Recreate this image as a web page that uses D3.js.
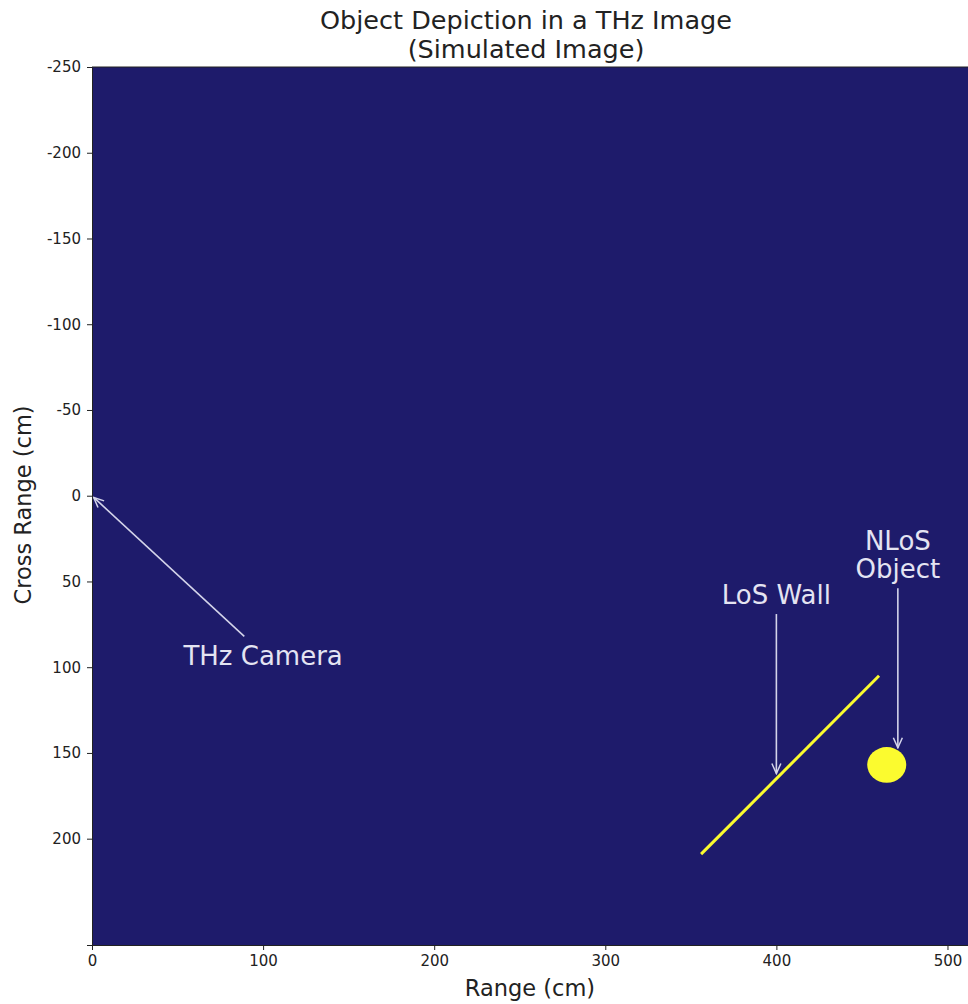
<!DOCTYPE html>
<html>
<head>
<meta charset="utf-8">
<script src="https://cdn.jsdelivr.net/npm/d3@7"></script>
<style>
  html, body { margin: 0; padding: 0; background: #fff; }
  svg { display: block; font-family: "DejaVu Sans", sans-serif; }
</style>
</head>
<body>
<svg id="chart" width="968" height="1004"></svg>
<script>
// Scene extent (cm)
const rangeExtent = [0, 512];
const crossExtent = [-250, 262];

// Axis ticks
const rangeTicks = [0, 100, 200, 300, 400, 500];
const crossTicks = [-250, -200, -150, -100, -50, 0, 50, 100, 150, 200];

// Line-of-sight wall: end points [range, cross range]
const wallPoints = [[356, 209], [460, 105]];

// Hidden object: centre and radii [range, cross range]
const objectCenter = [464.5, 157];
const objectRadius = [11.4, 10.4];

// Annotations: label lines, label anchor, arrow start and arrow tip
const annotations = [
  { lines: ["THz Camera"], label: [100, 98.5], from: [89, 82], to: [1, 1] },
  { lines: ["LoS Wall"], label: [400, 63], from: [400, 69], to: [400, 162] },
  { lines: ["NLoS", "Object"], label: [471, 48], from: [471, 54], to: [471, 147] }
];

const svg = d3.select("#chart");
const margin = { left: 92, top: 67, right: 0, bottom: 59 };
const W = 968, H = 1004;

const x = d3.scaleLinear().domain(rangeExtent).range([margin.left, W - margin.right]);
const y = d3.scaleLinear().domain(crossExtent).range([margin.top, H - margin.bottom]);

const bg = "#1e1b6b";
const yellow = "#fbfb2f";
const annoColor = "#d4d4ea";

// Image background
svg.append("rect")
  .attr("x", x(rangeExtent[0])).attr("y", y(crossExtent[0]))
  .attr("width", x(rangeExtent[1]) - x(rangeExtent[0]))
  .attr("height", y(crossExtent[1]) - y(crossExtent[0]))
  .attr("fill", bg);

// Wall
svg.append("line")
  .attr("x1", x(wallPoints[0][0])).attr("y1", y(wallPoints[0][1]))
  .attr("x2", x(wallPoints[1][0])).attr("y2", y(wallPoints[1][1]))
  .attr("stroke", yellow).attr("stroke-width", 3);

// Object
svg.append("ellipse")
  .attr("cx", x(objectCenter[0])).attr("cy", y(objectCenter[1]))
  .attr("rx", x(objectCenter[0] + objectRadius[0]) - x(objectCenter[0]))
  .attr("ry", y(objectCenter[1] + objectRadius[1]) - y(objectCenter[1]))
  .attr("fill", yellow);

// Arrow head marker (open "->" style)
svg.append("defs").append("marker")
  .attr("id", "head").attr("viewBox", "0 0 12 12")
  .attr("refX", 11).attr("refY", 6)
  .attr("markerWidth", 12).attr("markerHeight", 12)
  .attr("markerUnits", "userSpaceOnUse")
  .attr("orient", "auto")
  .append("path").attr("d", "M1,1.5 L11,6 L1,10.5")
  .attr("fill", "none").attr("stroke", annoColor).attr("stroke-width", 1.5);

const ann = svg.append("g");
annotations.forEach(a => {
  ann.append("line")
    .attr("x1", x(a.from[0])).attr("y1", y(a.from[1]))
    .attr("x2", x(a.to[0])).attr("y2", y(a.to[1]))
    .attr("stroke", annoColor).attr("stroke-width", 1.6)
    .attr("marker-end", "url(#head)");
  const n = a.lines.length;
  a.lines.forEach((t, i) => {
    ann.append("text")
      .attr("x", x(a.label[0]))
      .attr("y", y(a.label[1]) - (n - 1 - i) * 28)
      .attr("text-anchor", "middle")
      .attr("font-size", 26)
      .attr("fill", "#e4e4f2")
      .text(t);
  });
});

// Axes
const xAxis = svg.append("g")
  .attr("transform", `translate(0,${y(crossExtent[1])})`)
  .call(d3.axisBottom(x).tickValues(rangeTicks).tickSize(5).tickPadding(5));
const yAxis = svg.append("g")
  .attr("transform", `translate(${x(rangeExtent[0])},0)`)
  .call(d3.axisLeft(y).tickValues(crossTicks).tickSize(5).tickPadding(6)
    .tickFormat(d => d < 0 ? "-" + Math.abs(d) : d));
[xAxis, yAxis].forEach(g => {
  g.selectAll("text").attr("font-size", 15).attr("fill", "#222")
    .attr("font-family", "DejaVu Sans, sans-serif");
  g.selectAll("line").attr("stroke", "#222");
  g.select(".domain").attr("stroke", "#222");
});

// Top edge of the frame
svg.append("line")
  .attr("x1", x(rangeExtent[0])).attr("x2", x(rangeExtent[1]))
  .attr("y1", y(crossExtent[0])).attr("y2", y(crossExtent[0]))
  .attr("stroke", "#222");

// Titles
const title = svg.append("text").attr("text-anchor", "middle")
  .attr("font-size", 25.5).attr("fill", "#222");
title.append("tspan").attr("x", 526).attr("y", 29).text("Object Depiction in a THz Image");
title.append("tspan").attr("x", 526).attr("y", 58).text("(Simulated Image)");

svg.append("text").attr("text-anchor", "middle")
  .attr("x", 530).attr("y", 996)
  .attr("font-size", 22.5).attr("fill", "#222")
  .text("Range (cm)");

svg.append("text").attr("text-anchor", "middle")
  .attr("transform", `translate(31,${505}) rotate(-90)`)
  .attr("font-size", 22.5).attr("fill", "#222")
  .text("Cross Range (cm)");
</script>
</body>
</html>
